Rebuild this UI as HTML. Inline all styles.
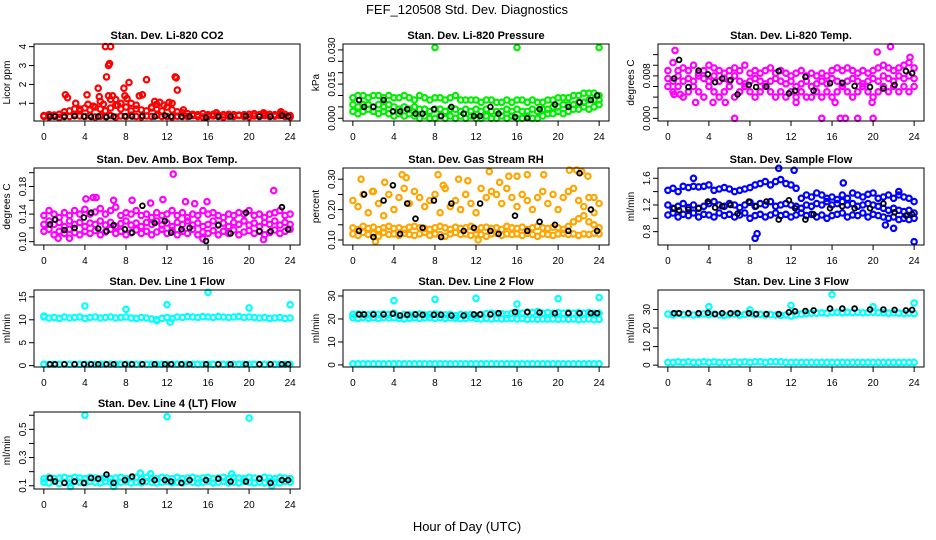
<!DOCTYPE html>
<html><head><meta charset="utf-8">
<style>
html,body{margin:0;padding:0;background:#fff;}
svg{display:block;font-family:"Liberation Sans",Arial,sans-serif;}
</style></head>
<body>
<svg id="chart" width="936" height="540" viewBox="0 0 936 540" xmlns="http://www.w3.org/2000/svg">
<text x="467" y="14" font-size="13" text-anchor="middle">FEF_120508  Std. Dev. Diagnostics</text>
<text x="467" y="531" font-size="13" text-anchor="middle">Hour of Day (UTC)</text>
<g id="panels"></g>
</svg>
<script>
const halfHours=[0,0.5,1,1.5,2,2.5,3,3.5,4,4.5,5,5.5,6,6.5,7,7.5,8,8.5,9,9.5,10,10.5,11,11.5,12,12.5,13,13.5,14,14.5,15,15.5,16,16.5,17,17.5,18,18.5,19,19.5,20,20.5,21,21.5,22,22.5,23,23.5,24];
const hours=[0.6,1.1,2,3,3.9,4.6,5.3,6.1,6.8,7.9,8.6,9.6,10.8,11.8,12.4,13.4,14.2,15.8,17,18.2,19.7,21,22.1,23.2,23.8];
const xTicks=[0,4,8,12,16,20,24];

// Panel 1 CO2
const co2Base=[0.3,0.28,0.32,0.25,0.35,0.3,0.4,0.33,0.3,0.36,0.28,0.32,0.3,0.35,0.27,0.33,0.3,0.38,0.3,0.28,0.33,0.3,0.36,0.3,0.3,0.28,0.32,0.3,0.3,0.35,0.3,0.28,0.3,0.33,0.3,0.27,0.32,0.3,0.35,0.3,0.28,0.33,0.3,0.35,0.3,0.32,0.35,0.3,0.28];
const co2Mid=[0.35,0.4,0.38,0.42,0.55,0.6,0.7,0.6,0.75,0.65,0.8,0.7,0.6,0.75,0.9,0.7,0.8,0.6,0.7,0.65,0.6,0.75,0.7,0.6,0.8,0.65,0.55,0.5,0.45,0.42,0.4,0.45,0.4,0.42,0.38,0.4,0.42,0.4,0.38,0.4,0.42,0.45,0.4,0.45,0.42,0.4,0.45,0.42,0.35];
const co2OutX=[2.1,2.3,3.1,4.2,4.3,5.3,5.4,5.5,6.0,6.5,6.1,6.3,6.4,6.3,6.7,6.5,7.0,7.5,7.8,7.9,8.1,8.3,8.5,9.0,9.3,9.6,10,10.8,11.3,11.7,12.2,12.8,12.9,13.0,12.5,13.6,16.8,21.4,23.1,4.8,5.8,7.2,10.5,3.5,11.0];
const co2OutY=[1.45,1.3,1.0,1.45,0.95,1.8,1.35,1.1,4.0,4.0,2.4,3.0,3.1,1.4,1.4,1.2,1.2,1.0,1.8,1.4,1.25,2.1,1.0,0.9,1.4,1.45,2.25,1.1,1.05,0.9,1.05,2.4,2.35,1.7,1.0,0.65,0.5,0.5,0.55,0.85,0.95,0.9,0.8,0.7,0.95];
const co2Black=[0.3,0.3,0.28,0.32,0.3,0.28,0.3,0.27,0.3,0.32,0.3,0.33,0.3,0.35,0.3,0.3,0.3,0.25,0.3,0.3,0.33,0.3,0.3,0.35,0.3];
const co2Ticks=[1,2,3,4];const co2Labels=["1","2","3","4"];

// Panel 2 pressure
const presLow=[0.003,0.002,0.003,0.004,0.003,0.002,0.003,0.002,0.001,0.002,0.001,0.002,0.001,0.0,0.001,0.0,0.0,0.001,0.0,0.001,0.0,0.001,0.0,0.001,0.0,0.0,0.001,0.0,0.0,0.001,0.0,0.001,0.0,0.0,0.001,0.0,0.0,0.001,0.002,0.002,0.003,0.002,0.003,0.004,0.004,0.005,0.004,0.005,0.006];
const presMid=[0.006,0.005,0.006,0.006,0.005,0.006,0.005,0.006,0.005,0.004,0.005,0.004,0.005,0.004,0.004,0.003,0.004,0.004,0.003,0.004,0.004,0.003,0.004,0.003,0.004,0.003,0.004,0.003,0.003,0.003,0.004,0.003,0.004,0.003,0.003,0.004,0.003,0.004,0.004,0.005,0.005,0.006,0.006,0.006,0.007,0.007,0.008,0.008,0.008];
const presHigh=[0.009,0.01,0.01,0.009,0.01,0.01,0.009,0.01,0.009,0.009,0.01,0.009,0.008,0.01,0.009,0.008,0.009,0.009,0.008,0.009,0.01,0.008,0.008,0.008,0.008,0.007,0.008,0.008,0.007,0.007,0.008,0.007,0.008,0.008,0.007,0.008,0.007,0.007,0.008,0.008,0.009,0.009,0.009,0.01,0.01,0.011,0.011,0.011,0.01];
const presOutX=[8,16,24];const presOutY=[0.031,0.031,0.031];
const presBlack=[0.008,0.005,0.005,0.008,0.003,0.003,0.004,0.002,0.002,0.004,0.001,0.005,0.002,0.001,0.001,0.005,0.002,0.0005,0.0,0.004,0.006,0.005,0.007,0.008,0.01];
const presTicks=[0,0.005,0.01,0.015,0.02,0.025,0.03];const presLabels=["0.000","","","0.015","","","0.030"];

// Panel 3 Li-820 temp
const tempLow=[0.006,0.005,0.006,0.004,0.005,0.006,0.005,0.004,0.006,0.005,0.004,0.005,0.006,0.004,0.005,0.006,0.005,0.004,0.005,0.006,0.005,0.004,0.005,0.004,0.005,0.004,0.005,0.004,0.004,0.005,0.004,0.005,0.004,0.005,0.006,0.005,0.004,0.005,0.006,0.005,0.004,0.005,0.006,0.005,0.006,0.005,0.006,0.005,0.006];
const tempMid=[0.0075,0.007,0.008,0.007,0.0075,0.007,0.008,0.0075,0.007,0.008,0.007,0.0075,0.007,0.008,0.007,0.0065,0.007,0.0075,0.007,0.0065,0.007,0.0075,0.007,0.0065,0.007,0.006,0.0065,0.007,0.006,0.0065,0.007,0.0065,0.0075,0.007,0.0065,0.007,0.0075,0.007,0.0065,0.007,0.0075,0.007,0.008,0.0075,0.007,0.008,0.0075,0.008,0.0075];
const tempHigh=[0.009,0.0105,0.009,0.0095,0.009,0.01,0.0085,0.009,0.01,0.0095,0.009,0.0085,0.009,0.0095,0.009,0.01,0.0085,0.009,0.0085,0.009,0.0095,0.0085,0.009,0.0085,0.008,0.0085,0.009,0.008,0.0085,0.008,0.0085,0.008,0.009,0.0095,0.009,0.0095,0.009,0.0085,0.009,0.0085,0.009,0.0095,0.01,0.0095,0.009,0.0095,0.01,0.0105,0.0095];
const tempOutX=[0.7,21.7,6.5,15,16.8,17.3,18.5,20,2.7,4.4,5.6,12.5,19.9,16.3,0.6,1.2,20.4,23.6];
const tempOutY=[0.0128,0.0135,0,0,0,0,0,0,0.003,0.003,0.003,0.003,0.003,0.003,0.0045,0.0045,0.0125,0.0115];
const tempBlack=[0.0075,0.011,0.0059,0.009,0.0083,0.0068,0.0075,0.0072,0.0045,0.0063,0.0059,0.006,0.0089,0.0047,0.0052,0.0078,0.0052,0.0066,0.0067,0.0061,0.0059,0.0056,0.0063,0.0089,0.0085];
const tempTicks=[0,0.002,0.004,0.006,0.008,0.01,0.012];const tempLabels=["0.000","","","","0.008","",""];

// Panel 4 amb box temp
const ambLow=[0.115,0.118,0.11,0.115,0.112,0.118,0.113,0.11,0.115,0.112,0.116,0.11,0.114,0.118,0.112,0.115,0.11,0.113,0.117,0.112,0.115,0.11,0.114,0.118,0.112,0.116,0.11,0.115,0.112,0.118,0.11,0.114,0.112,0.116,0.11,0.115,0.112,0.117,0.11,0.114,0.116,0.112,0.115,0.11,0.113,0.117,0.112,0.115,0.118];
const ambMid=[0.125,0.13,0.125,0.128,0.122,0.13,0.125,0.128,0.122,0.127,0.125,0.13,0.124,0.128,0.122,0.126,0.13,0.124,0.127,0.122,0.128,0.125,0.13,0.124,0.127,0.122,0.128,0.125,0.13,0.124,0.127,0.122,0.125,0.13,0.124,0.127,0.122,0.128,0.125,0.13,0.124,0.127,0.122,0.128,0.125,0.13,0.124,0.128,0.125];
const ambHigh=[0.138,0.145,0.14,0.135,0.142,0.138,0.145,0.14,0.147,0.14,0.143,0.148,0.14,0.145,0.15,0.138,0.142,0.14,0.145,0.138,0.14,0.135,0.142,0.138,0.14,0.145,0.138,0.142,0.135,0.14,0.138,0.145,0.14,0.142,0.138,0.135,0.14,0.138,0.142,0.14,0.145,0.138,0.14,0.135,0.14,0.142,0.145,0.138,0.14];
const ambOutX=[12.6,22.4,4.1,4.8,8.6,10.4,14.7,15.9,6.8,2.5,1.4,21.4,15.5,5.1,11.6,13.8];
const ambOutY=[0.198,0.174,0.162,0.164,0.16,0.156,0.155,0.158,0.16,0.105,0.105,0.103,0.104,0.164,0.161,0.158];
const ambBlack=[0.125,0.132,0.117,0.12,0.135,0.142,0.119,0.115,0.124,0.118,0.113,0.152,0.127,0.13,0.113,0.118,0.12,0.101,0.124,0.112,0.142,0.115,0.115,0.15,0.118];
const ambTicks=[0.1,0.12,0.14,0.16,0.18,0.2];const ambLabels=["0.10","","0.14","","0.18",""];

// Panel 5 RH
const rhLow=[0.12,0.115,0.125,0.118,0.12,0.112,0.125,0.118,0.12,0.115,0.122,0.118,0.115,0.12,0.125,0.115,0.12,0.118,0.112,0.12,0.125,0.118,0.12,0.115,0.12,0.118,0.112,0.12,0.122,0.115,0.12,0.118,0.12,0.115,0.122,0.118,0.112,0.12,0.118,0.115,0.12,0.122,0.118,0.12,0.115,0.12,0.118,0.122,0.12];
const rhMid=[0.14,0.135,0.145,0.138,0.142,0.135,0.14,0.145,0.138,0.14,0.135,0.142,0.145,0.14,0.138,0.135,0.14,0.145,0.14,0.135,0.142,0.138,0.14,0.145,0.135,0.14,0.142,0.138,0.14,0.135,0.145,0.14,0.138,0.142,0.135,0.14,0.145,0.14,0.138,0.142,0.14,0.135,0.145,0.16,0.17,0.18,0.16,0.15,0.14];
const rhHigh=[0.23,0.21,0.25,0.19,0.26,0.22,0.18,0.25,0.2,0.24,0.27,0.22,0.26,0.24,0.21,0.23,0.25,0.19,0.27,0.21,0.23,0.2,0.25,0.22,0.19,0.27,0.24,0.26,0.25,0.22,0.27,0.24,0.21,0.25,0.23,0.2,0.24,0.26,0.22,0.25,0.2,0.24,0.26,0.27,0.23,0.21,0.24,0.19,0.22];
const rhOutX=[0.8,1.9,3.1,4.8,5.2,8.3,8.8,10.3,11.2,13.3,14.3,15.2,16,17,18.6,21.1,21.8,22.3,22.9,23.5,2.2,12.2];
const rhOutY=[0.3,0.26,0.29,0.315,0.305,0.315,0.28,0.3,0.295,0.325,0.29,0.31,0.31,0.315,0.315,0.33,0.33,0.325,0.31,0.24,0.095,0.1];
const rhBlack=[0.13,0.25,0.11,0.23,0.28,0.12,0.22,0.17,0.14,0.23,0.11,0.22,0.13,0.14,0.22,0.13,0.12,0.18,0.13,0.16,0.15,0.13,0.32,0.2,0.13];
const rhTicks=[0.1,0.15,0.2,0.25,0.3];const rhLabels=["0.10","","0.20","","0.30"];

// Panel 6 sample flow
const sfLow=[1.05,1.08,1.02,1.06,1.04,1.08,1.02,1.06,1.05,1.02,1.08,1.04,1.06,1.02,1.05,1.08,1.0,1.04,1.06,1.02,1.05,1.08,1.04,1.06,1.02,1.05,1.08,1.04,1.06,1.02,1.05,1.0,1.04,1.06,1.08,1.02,1.05,1.04,1.08,1.02,1.06,1.04,1.02,1.0,1.02,0.98,1.0,0.98,1.0];
const sfMid=[1.2,1.15,1.18,1.22,1.16,1.2,1.15,1.18,1.22,1.25,1.2,1.18,1.22,1.2,1.16,1.2,1.24,1.18,1.22,1.2,1.25,1.18,1.2,1.22,1.2,1.18,1.15,1.2,1.18,1.22,1.2,1.25,1.2,1.22,1.25,1.2,1.22,1.18,1.2,1.22,1.2,1.18,1.15,1.12,1.15,1.12,1.1,1.12,1.08];
const sfHigh=[1.42,1.45,1.4,1.48,1.46,1.48,1.47,1.48,1.5,1.42,1.44,1.46,1.44,1.4,1.42,1.44,1.46,1.5,1.52,1.55,1.5,1.55,1.58,1.52,1.5,1.45,1.3,1.35,1.32,1.38,1.35,1.3,1.32,1.28,1.35,1.3,1.38,1.35,1.32,1.36,1.38,1.3,1.32,1.35,1.3,1.35,1.32,1.3,1.25];
const sfOutX=[8.5,8.7,24,10.8,12.3,22,2.5,17.1,22.5,21.2];
const sfOutY=[0.7,0.77,0.65,1.75,1.72,0.85,1.6,1.53,1.4,0.9];
const sfBlack=[1.15,1.12,1.13,1.15,1.25,1.16,1.18,1.2,1.07,1.25,1.18,1.25,0.98,1.27,1.15,0.98,1.06,1.15,1.18,1.15,1.15,1.22,1.09,1.04,1.06];
const sfTicks=[0.8,1.0,1.2,1.4,1.6];const sfLabels=["0.8","","1.2","","1.6"];

// Panel 7 line 1
const l1Band=[10.6,10.4,10.5,10.3,10.6,10.4,10.5,10.6,10.3,10.5,10.6,10.4,10.5,10.6,10.4,10.5,10.6,10.4,10.3,10.5,10.4,10.2,10.0,10.3,10.5,10.3,10.6,10.5,10.7,10.6,10.5,10.7,10.6,10.5,10.7,10.6,10.5,10.6,10.7,10.5,10.6,10.5,10.4,10.5,10.3,10.4,10.5,10.3,10.4];
const l1Base=[0.3,0.3,0.3,0.3,0.3,0.3,0.3,0.3,0.3,0.3,0.3,0.3,0.3,0.3,0.3,0.3,0.3,0.3,0.3,0.3,0.3,0.3,0.3,0.3,0.3,0.3,0.3,0.3,0.3,0.3,0.3,0.3,0.3,0.3,0.3,0.3,0.3,0.3,0.3,0.3,0.3,0.3,0.3,0.3,0.3,0.3,0.3,0.3,0.3];
const l1OutX=[4,8,12,16,20,24,12.3,11,0];const l1OutY=[13,12.3,13.3,16,12.6,13.3,9.5,9.8,10.8];
const l1Black=[0.3,0.3,0.3,0.3,0.3,0.3,0.3,0.3,0.3,0.3,0.3,0.3,0.3,0.3,0.3,0.3,0.3,0.3,0.3,0.3,0.3,0.3,0.3,0.3,0.3];
const l1Ticks=[0,5,10,15];const l1Labels=["0","5","10","15"];

// Panel 8 line 2
const l2Band=[20.5,20.2,20.6,20.3,20.5,20.2,20.6,20.4,20.5,20.2,20.0,20.3,20.5,20.2,20.4,20.6,20.3,20.5,20.2,20.4,20.3,20.1,20.3,20.5,20.2,20.0,20.2,20.0,20.2,20.0,20.1,20.2,20.0,20.2,19.8,20.0,19.8,20.0,19.9,20.0,19.8,20.0,19.8,20.0,19.7,19.9,20.0,19.7,19.8];
const l2Upper=[22.0,22.2,22.0,21.8,22.2,22.0,22.2,22.0,22.5,21.5,22.0,21.8,22.0,22.2,21.8,22.0,22.2,22.0,21.8,22.0,21.5,22.0,21.8,22.0,21.5,22.0,22.3,22.5,22.2,22.3,22.0,22.5,22.8,22.5,23.0,22.8,23.2,22.5,22.8,22.5,22.8,22.5,22.8,22.5,22.8,22.5,22.8,22.5,22.5];
const l2Base=[0.5,0.5,0.5,0.5,0.5,0.5,0.5,0.5,0.5,0.5,0.5,0.5,0.5,0.5,0.5,0.5,0.5,0.5,0.5,0.5,0.5,0.5,0.5,0.5,0.5,0.5,0.5,0.5,0.5,0.5,0.5,0.5,0.5,0.5,0.5,0.5,0.5,0.5,0.5,0.5,0.5,0.5,0.5,0.5,0.5,0.5,0.5,0.5,0.5];
const l2OutX=[4,8,12,16,20,24];const l2OutY=[28,28.5,29,26.5,28.8,29.3];
const l2Black=[22,22,22,22,22.3,21.5,21.8,22,21.8,21.8,21.8,21.5,21.5,22,22,22,22.5,23,23,22.8,22.5,22.5,22.5,22.5,22.5];
const l2Ticks=[0,10,20,30];const l2Labels=["0","10","20","30"];

// Panel 9 line 3
const l3Band=[27.5,27,27.8,27.2,27.5,27,27.3,27.6,27.2,27.5,27,26.8,27.3,27.5,27,27.3,27.8,27.2,27.4,27.1,27.3,27,26.8,27,26.5,27.2,27.5,27.8,28,28,28.2,28,28.3,28.5,28.2,28.5,28.3,28.5,28.2,28.3,28.5,28.3,28.2,28,28.2,28,27.8,28,27.8];
const l3Base=[1.5,1.5,1.8,1.5,1.8,1.5,1.5,1.8,1.5,1.8,1.5,1.5,1.5,1.8,1.5,1.8,1.5,1.8,1.8,1.5,1.8,1.8,1.8,1.5,1.5,1.5,1.5,1.5,1.5,1.5,1.5,1.5,1.5,1.5,1.5,1.5,1.5,1.5,1.5,1.5,1.5,1.5,1.5,1.5,1.5,1.5,1.5,1.5,1.5];
const l3OutX=[4,8,12,16,20,24];const l3OutY=[31.5,29.8,32.2,38,31.5,33.5];
const l3Black=[28,28,28,28,28.2,27.5,28,28,28,28,27.5,27.5,27.5,28.5,29,29.2,29.5,30.5,30.5,30.5,30,30,29.8,29.5,29.8];
const l3Ticks=[0,10,20,30];const l3Labels=["0","10","20","30"];

// Panel 10 line 4
const l4Low=[0.125,0.12,0.13,0.115,0.125,0.12,0.13,0.125,0.12,0.13,0.125,0.12,0.13,0.125,0.12,0.125,0.13,0.12,0.125,0.12,0.13,0.125,0.12,0.125,0.13,0.12,0.125,0.12,0.13,0.125,0.12,0.125,0.13,0.12,0.125,0.13,0.12,0.125,0.12,0.13,0.125,0.12,0.125,0.12,0.13,0.125,0.12,0.13,0.125];
const l4High=[0.15,0.16,0.15,0.155,0.16,0.15,0.16,0.155,0.15,0.16,0.155,0.15,0.16,0.15,0.155,0.16,0.15,0.155,0.16,0.15,0.16,0.155,0.15,0.16,0.155,0.15,0.16,0.15,0.155,0.16,0.15,0.155,0.16,0.15,0.155,0.16,0.15,0.16,0.155,0.15,0.16,0.155,0.15,0.16,0.155,0.15,0.16,0.155,0.15];
const l4OutX=[4,12,20,9.4,10.4,18.3,2.6,6.8,22.2];const l4OutY=[0.6,0.59,0.58,0.19,0.185,0.185,0.095,0.095,0.1];
const l4Black=[0.155,0.13,0.12,0.13,0.12,0.155,0.15,0.18,0.12,0.14,0.165,0.13,0.14,0.14,0.13,0.12,0.14,0.14,0.15,0.13,0.13,0.15,0.12,0.14,0.14];
const l4Ticks=[0.1,0.2,0.3,0.4,0.5,0.6];const l4Labels=["0.1","","0.3","","0.5",""];

const colX=[34,343,658];const rowY=[44,168,290,412];const boxW=266,boxH=77;
const RED='#ff0000',GRN='#00ee00',MAG='#ff00ff',ORG='#ffa500',BLU='#0000ff',CYN='#00ffff',BLK='#000000';
const panels=[
 {name:'co2',title:'Stan. Dev. Li-820 CO2',ylab:'Licor ppm',c:0,r:0,dom:[0.064,4.14],ticks:co2Ticks,labels:co2Labels,
  series:[[halfHours,co2Base,RED],[halfHours,co2Mid,RED],[co2OutX,co2OutY,RED],[hours,co2Black,BLK]]},
 {name:'pressure',title:'Stan. Dev. Li-820 Pressure',ylab:'kPa',c:1,r:0,dom:[-0.0012,0.0326],ticks:presTicks,labels:presLabels,
  series:[[halfHours,presLow,GRN],[halfHours,presMid,GRN],[halfHours,presHigh,GRN],[presOutX,presOutY,GRN],[hours,presBlack,BLK]]},
 {name:'li820-temp',title:'Stan. Dev. Li-820 Temp.',ylab:'degrees C',c:2,r:0,dom:[-0.0005,0.014],ticks:tempTicks,labels:tempLabels,
  series:[[halfHours,tempLow,MAG],[halfHours,tempMid,MAG],[halfHours,tempHigh,MAG],[tempOutX,tempOutY,MAG],[hours,tempBlack,BLK]]},
 {name:'amb-box-temp',title:'Stan. Dev. Amb. Box Temp.',ylab:'degrees C',c:0,r:1,dom:[0.0952,0.2068],ticks:ambTicks,labels:ambLabels,
  series:[[halfHours,ambLow,MAG],[halfHours,ambMid,MAG],[halfHours,ambHigh,MAG],[ambOutX,ambOutY,MAG],[hours,ambBlack,BLK]]},
 {name:'gas-stream-rh',title:'Stan. Dev. Gas Stream RH',ylab:'percent',c:1,r:1,dom:[0.0835,0.337],ticks:rhTicks,labels:rhLabels,
  series:[[halfHours,rhLow,ORG],[halfHours,rhMid,ORG],[halfHours,rhHigh,ORG],[rhOutX,rhOutY,ORG],[hours,rhBlack,BLK]]},
 {name:'sample-flow',title:'Stan. Dev. Sample Flow',ylab:'ml/min',c:2,r:1,dom:[0.6,1.754],ticks:sfTicks,labels:sfLabels,
  series:[[halfHours,sfLow,BLU],[halfHours,sfMid,BLU],[halfHours,sfHigh,BLU],[sfOutX,sfOutY,BLU],[hours,sfBlack,BLK]]},
 {name:'line1-flow',title:'Stan. Dev. Line 1 Flow',ylab:'ml/min',c:0,r:2,dom:[-0.3,16.5],ticks:l1Ticks,labels:l1Labels,
  series:[[halfHours,l1Band,CYN],[halfHours,l1Base,CYN],[l1OutX,l1OutY,CYN],[hours,l1Black,BLK]]},
 {name:'line2-flow',title:'Stan. Dev. Line 2 Flow',ylab:'ml/min',c:1,r:2,dom:[-0.9,32.6],ticks:l2Ticks,labels:l2Labels,
  series:[[halfHours,l2Band,CYN],[halfHours,l2Upper,CYN],[halfHours,l2Base,CYN],[l2OutX,l2OutY,CYN],[hours,l2Black,BLK]]},
 {name:'line3-flow',title:'Stan. Dev. Line 3 Flow',ylab:'ml/min',c:2,r:2,dom:[-1.0,40.5],ticks:l3Ticks,labels:l3Labels,
  series:[[halfHours,l3Band,CYN],[halfHours,l3Base,CYN],[l3OutX,l3OutY,CYN],[hours,l3Black,BLK]]},
 {name:'line4-flow',title:'Stan. Dev. Line 4 (LT) Flow',ylab:'ml/min',c:0,r:3,dom:[0.077,0.623],ticks:l4Ticks,labels:l4Labels,
  series:[[halfHours,l4Low,CYN],[halfHours,l4High,CYN],[l4OutX,l4OutY,CYN],[hours,l4Black,BLK]]}
];
const NS='http://www.w3.org/2000/svg';
const root=document.getElementById('panels');
function mk(tag,attrs,parent){const e=document.createElementNS(NS,tag);for(const k in attrs)e.setAttribute(k,attrs[k]);parent.appendChild(e);return e;}
panels.forEach(p=>{
  const L=colX[p.c],T=rowY[p.r],R=L+boxW,B=T+boxH;
  const xs=v=>L+boxW*(v+0.96)/25.92;
  const ys=v=>B-boxH*(v-p.dom[0])/(p.dom[1]-p.dom[0]);
  const g=mk('g',{},root);
  
  
  const t=mk('text',{x:(L+R)/2,y:T-5,'font-size':11,'font-weight':'bold','text-anchor':'middle'},g);
  
  
  t.textContent=p.title;
  const pts=mk('g',{fill:'none'},g);
  
  
  p.series.forEach(s=>{
    const [X,Y,col]=s;
    const isBlack=col===BLK;
    for(let i=0;i<X.length;i++){
      const c=mk('circle',{cx:xs(X[i]).toFixed(1),cy:ys(Y[i]).toFixed(1),r:isBlack?2.4:2.7,stroke:col,'stroke-width':isBlack?1.8:2.2},pts);
      
      
    }
  });
  const box=mk('rect',{x:L,y:T,width:boxW,height:boxH,fill:'none',stroke:'#000','stroke-width':1},g);
  
  
  const xa=mk('g',{stroke:'#000','stroke-width':1},g);
  
  
  mk('line',{x1:xs(xTicks[0]),x2:xs(xTicks[xTicks.length-1]),y1:B,y2:B},xa);
  xTicks.forEach(v=>{
    mk('line',{x1:xs(v),x2:xs(v),y1:B,y2:B+5},xa);
    const lt=mk('text',{x:xs(v),y:B+19,'font-size':10,'text-anchor':'middle',stroke:'none'},xa);
    
    
    lt.textContent=v;
  });
  const ya=mk('g',{stroke:'#000','stroke-width':1},g);
  
  
  mk('line',{x1:L,x2:L,y1:ys(p.ticks[0]),y2:ys(p.ticks[p.ticks.length-1])},ya);
  p.ticks.forEach((v,i)=>{
    const y=ys(v);
    mk('line',{x1:L-5,x2:L,y1:y,y2:y},ya);
    if(p.labels[i]){
      const lt=mk('text',{x:0,y:0,transform:`translate(${L-8},${y}) rotate(-90)`,'font-size':10,'text-anchor':'middle',stroke:'none'},ya);
      
      
      lt.textContent=p.labels[i];
    }
  });
  const yl=mk('text',{x:0,y:0,transform:`translate(${L-24},${(T+B)/2}) rotate(-90)`,'font-size':10,'text-anchor':'middle'},g);
  
  
  yl.textContent=p.ylab;
});
</script>
</body></html>
